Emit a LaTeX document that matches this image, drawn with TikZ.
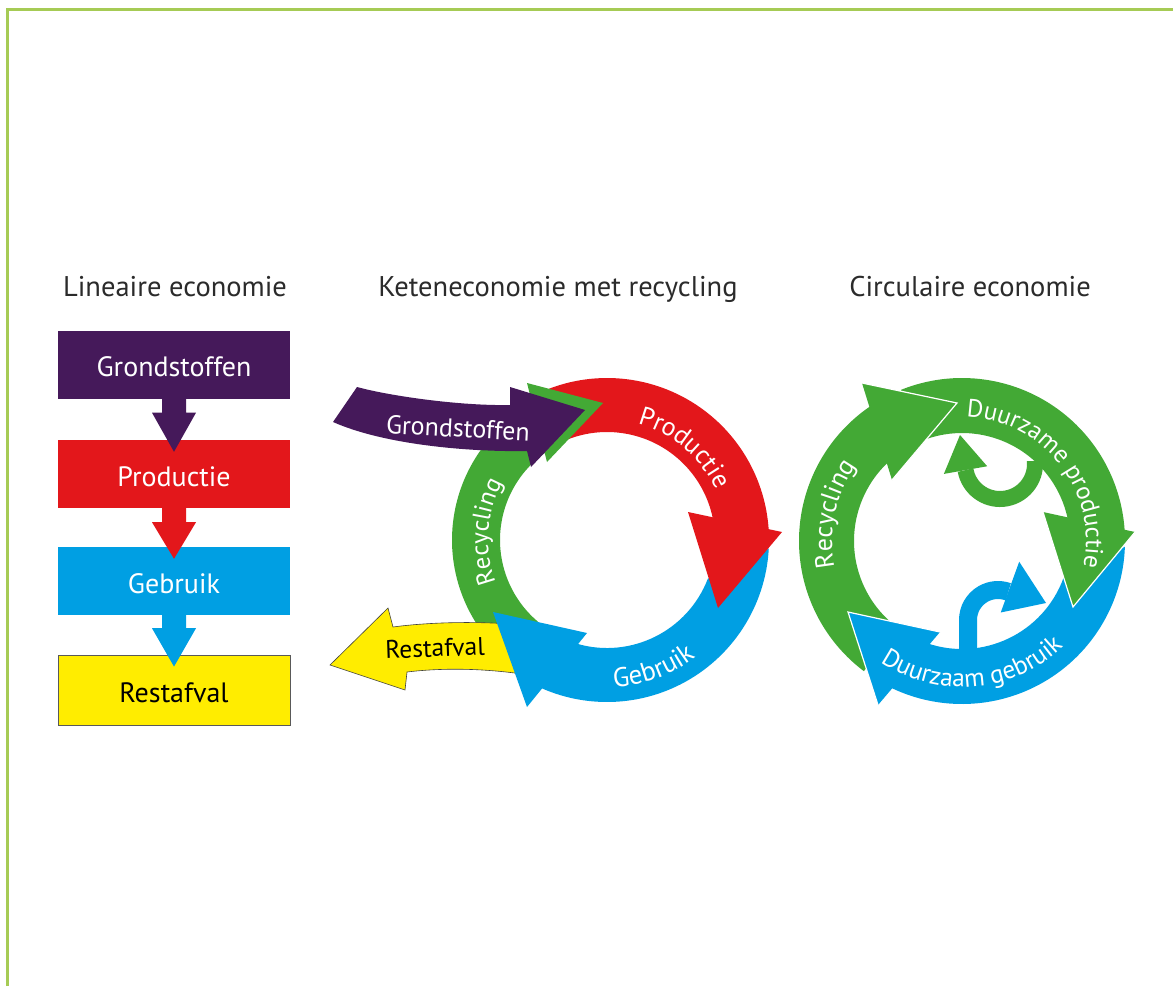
\documentclass[tikz,border=0pt]{standalone}
\usepackage{fontspec}
\setmainfont{PT Sans}
\usetikzlibrary{calc,decorations.text}
\definecolor{cpurple}{HTML}{45195A}
\definecolor{cred}{HTML}{E3171B}
\definecolor{cblue}{HTML}{009FE3}
\definecolor{cyellow}{HTML}{FFED00}
\definecolor{cgreen}{HTML}{43A935}
\definecolor{cborder}{HTML}{A6CB55}
\definecolor{ctitle}{HTML}{2B2B2B}
\begin{document}
\begin{tikzpicture}[x=1pt,y=-1pt,
  title/.style={font=\fontsize{28.5pt}{32pt}\selectfont, text=ctitle, anchor=base},
  box/.style={minimum width=232pt, minimum height=68pt, inner sep=0pt, text height=24pt, text depth=0pt, font=\fontsize{28pt}{32pt}\selectfont, text=white},
  lbl/.style={font=\fontsize{26pt}{30pt}\selectfont},
  headline/.style={draw=white, line width=1.2pt, line join=miter},
  curvetext/.style 2 args={decorate, decoration={text along path, text align=center, text={|\fontsize{#1}{#1}\selectfont\color{white}|#2}}},
]
\useasboundingbox (0,0) rectangle (1173,986);
\fill[white] (0,0) rectangle (1173,986);
\draw[cborder, line width=3pt] (7,986) -- (7,9) -- (1173,9);

% ---------- Lineaire economie ----------
\node[title] (t1) at (175,296) {Lineaire economie};
\node[box, fill=cpurple] (g) at (174,364.5) {Grondstoffen};
\node[box, fill=cred] (p) at (174,474) {Productie};
\node[box, fill=cblue] (u) at (174,581) {Gebruik};
\node[box, fill=cyellow, draw=black!65, line width=0.8pt, text=black, minimum height=70pt] (r) at (174,690) {Restafval};
\fill[cpurple] ($(g.south)+(-12,-1)$) -- ($(g.south)+(-12,14)$) -- ($(g.south)+(-22,14)$) -- ($(p.north)+(0,12)$) -- ($(g.south)+(22,14)$) -- ($(g.south)+(12,14)$) -- ($(g.south)+(12,-1)$) -- cycle;
\fill[cred] ($(p.south)+(-12,-1)$) -- ($(p.south)+(-12,14)$) -- ($(p.south)+(-22,14)$) -- ($(u.north)+(0,12)$) -- ($(p.south)+(22,14)$) -- ($(p.south)+(12,14)$) -- ($(p.south)+(12,-1)$) -- cycle;
\fill[cblue] ($(u.south)+(-12,-1)$) -- ($(u.south)+(-12,13)$) -- ($(u.south)+(-22,13)$) -- ($(r.north)+(0,12)$) -- ($(u.south)+(22,13)$) -- ($(u.south)+(12,13)$) -- ($(u.south)+(12,-1)$) -- cycle;

% ---------- Keteneconomie met recycling ----------
\node[title] (t2) at (558,296) {Keteneconomie met recycling};
\coordinate (M) at (607,540);
% green recycling band
\fill[cgreen] ($(M)+(130:155)$) arc[start angle=130,end angle=242,radius=155] -- ($(M)+(235:107)$) arc[start angle=235,end angle=130,radius=107] -- cycle;
% yellow restafval arrow
\filldraw[fill=cyellow, draw=black!75, line width=0.6pt] (330,665) -- (388,608) -- (393,627) .. controls (430,622) and (480,621) .. (522,625) -- (522,674) .. controls (480,668) and (440,668) .. (407,672) -- (405,690) -- cycle;
% blue gebruik
\fill[cblue] ($(M)+(3:162)$) arc[start angle=3,end angle=115,radius=162] -- ($(M)+(106:108)$) arc[start angle=106,end angle=21,radius=108] -- cycle;
\fill[cblue] (587,633) -- (527,707) -- (493,612) -- cycle;
% red productie
\fill[cred] ($(M)+(249:162)$) arc[start angle=249,end angle=357,radius=162] -- ($(M)+(348:108)$) arc[start angle=348,end angle=249,radius=108] -- cycle;
\fill[cred] (688,512) -- (782,532) -- (718,608) -- cycle;
% green head
\fill[cgreen] (527,383) -- (603,403) -- (547,462) -- cycle;
% purple grondstoffen arrow
\fill[cpurple] (357,387) .. controls (390,396) and (460,406) .. (510,405) -- (510,387) -- (585,410) -- (531,467) -- (527,451) .. controls (470,452) and (385,445) .. (333,422) -- cycle;
\node[lbl, text=white, rotate=-3] (gl) at (458,428) {Grondstoffen};
\node[lbl, text=black, rotate=2, font=\fontsize{25.5pt}{30pt}\selectfont] (rl) at (435,648) {Restafval};
\path[curvetext={26pt}{Productie}] ($(M)+(250:120)$) arc[start angle=250,end angle=370,radius=120];
\path[curvetext={25pt}{Recycling}] ($(M)+(124:119)$) arc[start angle=124,end angle=244,radius=119];
\path[curvetext={27pt}{Gebruik}] ($(M)+(130:147)$) arc[start angle=130,end angle=10,radius=147];

% ---------- Circulaire economie ----------
\node[title] (t3) at (970,296) {Circulaire economie};
\coordinate (C) at (962,541);
\fill[cgreen] ($(C)+(127:163)$) arc[start angle=127,end angle=237,radius=163] -- ($(C)+(228:108)$) arc[start angle=228,end angle=127,radius=108] -- cycle;
\fill[cgreen] ($(C)+(248:163)$) arc[start angle=248,end angle=358,radius=163] -- ($(C)+(349:108)$) arc[start angle=349,end angle=248,radius=108] -- cycle;
\fill[cblue] ($(C)+(2:163)$) arc[start angle=2,end angle=117,radius=163] -- ($(C)+(109:108)$) arc[start angle=109,end angle=20,radius=108] -- cycle;
% heads
\fill[cgreen] (892,480) -- (862,383) -- (957,403) -- cycle;
\draw[headline] (862,383) -- (957,403) -- (892,480);
\fill[cgreen] (1043,512) -- (1135,532) -- (1073,607) -- cycle;
\draw[headline] (1135,532) -- (1073,607) -- (1043,512);
\fill[cblue] (940,632) -- (878,705) -- (848,612) -- cycle;
\draw[headline] (878,705) -- (848,612) -- (940,632);
% small green hook
\coordinate (Hg) at (1000,464);
\draw[cgreen, line width=16pt] ($(Hg)+(-5:35)$) arc[start angle=-5,end angle=170,radius=35];
\fill[cgreen] ($(Hg)+(170:57)$) -- (960,435) -- ($(Hg)+(170:13)$) -- cycle;
% small blue hook
\coordinate (Hb) at (998,620);
\draw[cblue, line width=18pt] (968,656) -- (968,620) arc[start angle=180,end angle=290,radius=30];
\fill[cblue] ($(Hb)+(290:62)$) -- (1046,603) -- ($(Hb)+(290:8)$) -- cycle;
% texts
\path[curvetext={26pt}{Recycling}] ($(C)+(132:130)$) arc[start angle=132,end angle=252,radius=130];
\path[curvetext={25pt}{Duurzame productie}] ($(C)+(232:124)$) arc[start angle=232,end angle=412,radius=124];
\path[curvetext={25.5pt}{Duurzaam gebruik}] ($(C)+(175:146)$) arc[start angle=175,end angle=-5,radius=146];
\end{tikzpicture}
\end{document}
